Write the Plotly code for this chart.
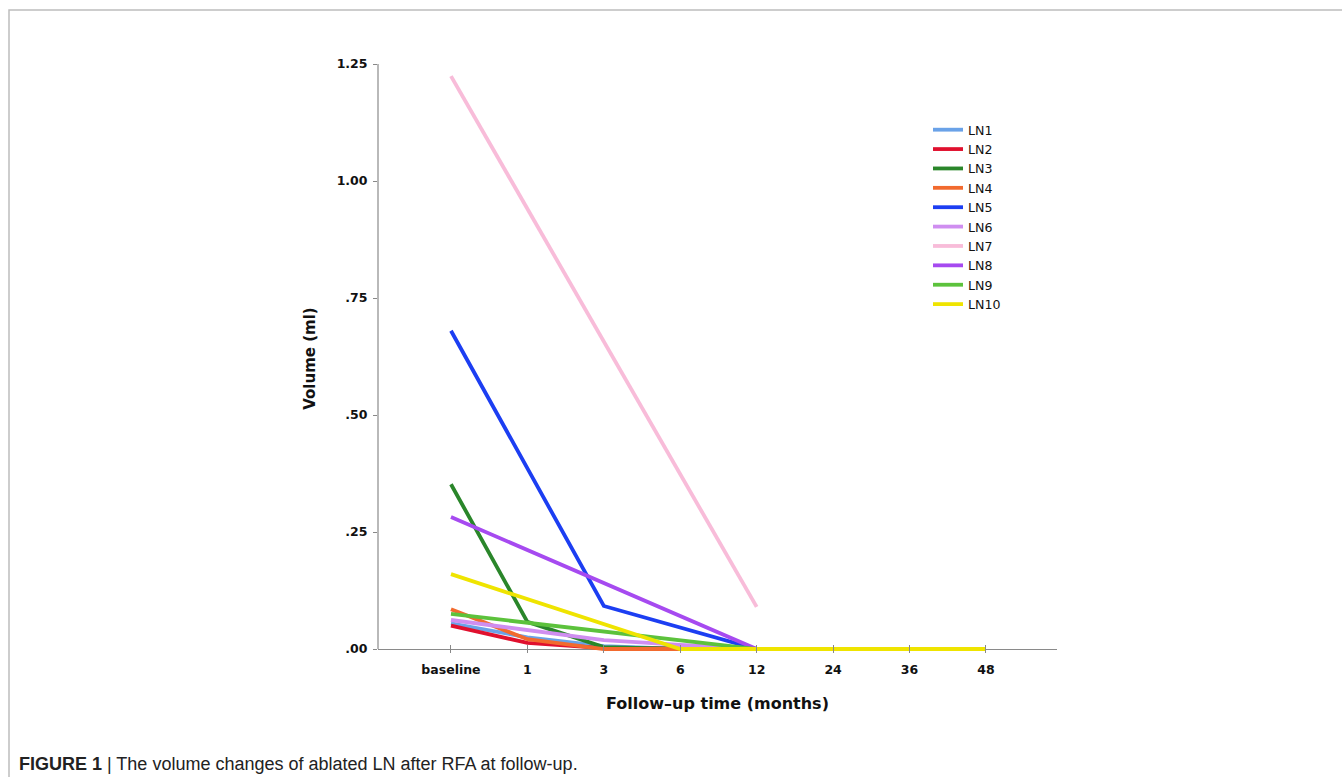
import plotly.graph_objects as go

categories = ["baseline", "1", "3", "6", "12", "24", "36", "48"]

ln1 = [0.055, 0.025, 0.006, 0.0, 0.0, 0.0, 0.0, 0.0]
ln2 = [0.050, 0.013, 0.002, 0.0, 0.0, 0.0, 0.0, 0.0]
ln3 = [0.352, 0.058, 0.004, 0.0, 0.0, 0.0, 0.0, 0.0]
ln4 = [0.085, 0.021, 0.0, 0.0, 0.0, 0.0, 0.0, 0.0]
ln5 = [0.680, None, 0.092, None, 0.0, 0.0, 0.0, 0.0]
ln6 = [0.062, 0.040, 0.019, 0.009, 0.0, 0.0, 0.0, 0.0]
ln7 = [1.224, None, None, None, 0.090, None, None, None]
ln8 = [0.282, None, None, None, 0.0, 0.0, 0.0, 0.0]
ln9 = [0.075, None, None, None, 0.0, 0.0, 0.0, 0.0]
ln10 = [0.160, None, None, 0.0, 0.0, 0.0, 0.0, 0.0]

series_names = ["LN1", "LN2", "LN3", "LN4", "LN5", "LN6", "LN7", "LN8", "LN9", "LN10"]
series_values = [ln1, ln2, ln3, ln4, ln5, ln6, ln7, ln8, ln9, ln10]
series_colors = ["#6aa2e8", "#e0102e", "#2a862a", "#f26a2e", "#1c3ef2",
                 "#cf8ef0", "#f8bcd9", "#a64af0", "#5cc23c", "#efe400"]

y_tickvals = [0, 0.25, 0.5, 0.75, 1.0, 1.25]
y_ticktext = [".00", ".25", ".50", ".75", "1.00", "1.25"]

fig = go.Figure()
for name, vals, col in zip(series_names, series_values, series_colors):
    fig.add_trace(go.Scatter(
        x=categories, y=vals, name=name, mode="lines",
        connectgaps=True,
        line=dict(color=col, width=3.8),
    ))

W, H = 1342, 777
L, R, T, B = 378, 285, 64, 124
pw = W - L - R
ph = H - T - B

def px_x(px):
    return (px - L) / pw

def px_y(py):
    return (H - B - py) / ph

tickfont = dict(family="DejaVu Sans", size=12.5, color="#111111", weight="bold")

fig.update_layout(
    width=W, height=H,
    margin=dict(l=L, r=R, t=T, b=B),
    paper_bgcolor="white", plot_bgcolor="white",
    showlegend=True,
    legend=dict(
        x=px_x(928), y=px_y(115), xanchor="left", yanchor="top",
        font=dict(family="DejaVu Sans", size=12.6, color="#111111"),
        bgcolor="rgba(0,0,0,0)", tracegroupgap=0,
    ),
    xaxis=dict(
        type="category", categoryorder="array", categoryarray=categories,
        range=[-0.955, 7.93],
        showgrid=False, zeroline=False, showline=False,
        ticks="inside", ticklen=8, tickcolor="#888888", tickwidth=1,
        tickfont=tickfont, ticklabelstandoff=7,
        title=dict(text="<b>Follow–up time (months)</b>",
                   font=dict(family="DejaVu Sans", size=16, color="#111111"),
                   standoff=22),
    ),
    yaxis=dict(
        range=[-0.0085, 1.25],
        tickvals=y_tickvals, ticktext=y_ticktext,
        showgrid=False, zeroline=True, zerolinecolor="#8a8a8a", zerolinewidth=1.2,
        showline=False,
        ticks="outside", ticklen=4, tickcolor="#888888", tickwidth=1,
        tickfont=tickfont, ticklabelstandoff=3,
        title=dict(text="<b>Volume (ml)</b>",
                   font=dict(family="DejaVu Sans", size=15, color="#111111"),
                   standoff=17),
    ),
    shapes=[
        dict(type="line", xref="paper", yref="y", x0=0, x1=0, y0=0, y1=1.25,
             line=dict(color="#8a8a8a", width=1.2)),
        dict(type="rect", xref="paper", yref="paper",
             x0=px_x(9), x1=px_x(1350), y0=px_y(785), y1=px_y(10),
             line=dict(color="#bdbdbd", width=1.5), fillcolor="rgba(0,0,0,0)"),
    ],
    annotations=[
        dict(xref="paper", yref="paper", x=px_x(17), y=px_y(764),
             xanchor="left", yanchor="middle", showarrow=False,
             text="<b>FIGURE 1</b> | The volume changes of ablated LN after RFA at follow-up.",
             font=dict(family="Liberation Sans Narrow, Liberation Sans", size=18, color="#222222")),
    ],
)

fig.write_html("out.html", config={"displayModeBar": False},
               post_script="document.body.style.margin='0px';")
